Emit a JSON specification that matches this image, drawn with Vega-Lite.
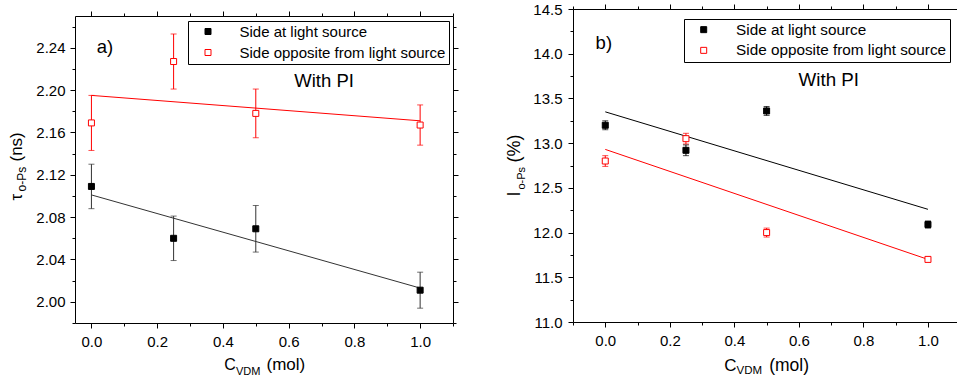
{
  "$schema": "https://vega.github.io/schema/vega-lite/v6.json",
  "background": "white",
  "padding": {"left": 7, "top": 2, "right": 0, "bottom": 0},
  "spacing": 46,
  "datasets": {
    "tauPts": [
      {"c": 0, "v": 2.109, "e": 0.021, "s": "Side at light source"},
      {"c": 0.25, "v": 2.060, "e": 0.021, "s": "Side at light source"},
      {"c": 0.5, "v": 2.069, "e": 0.022, "s": "Side at light source"},
      {"c": 1, "v": 2.011, "e": 0.017, "s": "Side at light source"},
      {"c": 0, "v": 2.169, "e": 0.026, "s": "Side opposite from light source"},
      {"c": 0.25, "v": 2.227, "e": 0.026, "s": "Side opposite from light source"},
      {"c": 0.5, "v": 2.178, "e": 0.023, "s": "Side opposite from light source"},
      {"c": 1, "v": 2.167, "e": 0.019, "s": "Side opposite from light source"}
    ],
    "tauFit": [
      {"c": 0, "v": 2.101, "s": "Side at light source"},
      {"c": 1, "v": 2.013, "s": "Side at light source"},
      {"c": 0, "v": 2.195, "s": "Side opposite from light source"},
      {"c": 1, "v": 2.171, "s": "Side opposite from light source"}
    ],
    "intPts": [
      {"c": 0, "v": 13.20, "e": 0.05, "s": "Side at light source"},
      {"c": 0.25, "v": 12.92, "e": 0.06, "s": "Side at light source"},
      {"c": 0.5, "v": 13.36, "e": 0.05, "s": "Side at light source"},
      {"c": 1, "v": 12.09, "e": 0.04, "s": "Side at light source"},
      {"c": 0, "v": 12.80, "e": 0.06, "s": "Side opposite from light source"},
      {"c": 0.25, "v": 13.05, "e": 0.06, "s": "Side opposite from light source"},
      {"c": 0.5, "v": 12.00, "e": 0.05, "s": "Side opposite from light source"},
      {"c": 1, "v": 11.70, "e": 0.02, "s": "Side opposite from light source"}
    ],
    "intFit": [
      {"c": 0, "v": 13.35, "s": "Side at light source"},
      {"c": 1, "v": 12.26, "s": "Side at light source"},
      {"c": 0, "v": 12.93, "s": "Side opposite from light source"},
      {"c": 1, "v": 11.70, "s": "Side opposite from light source"}
    ]
  },
  "hconcat": [
    {
      "spacing": 0,
      "resolve": {"scale": {"color": "independent", "stroke": "independent", "fill": "independent"}, "legend": {"color": "independent", "stroke": "independent", "fill": "independent"}},
      "vconcat": [
        {
          "width": 378,
          "height": 1,
          "data": {"values": []},
          "mark": {"type": "point"}
        },
        {
          "width": 378,
          "height": 307,
          "layer": [
            {
              "data": {"name": "tauPts"},
              "mark": {"type": "errorbar", "ticks": true, "size": 6, "thickness": 1},
              "encoding": {
                "x": {"field": "c", "type": "quantitative", "scale": {"domain": [-0.05, 1.1], "nice": false, "zero": false},
                  "axis": {"orient": "top", "values": [0, 0.2, 0.4, 0.6, 0.8, 1.0], "labels": false, "domain": true, "tickSize": 5, "title": null}},
                "y": {"field": "v", "type": "quantitative", "scale": {"domain": [1.98, 2.27], "nice": false, "zero": false},
                  "axis": {"orient": "right", "values": [2.00, 2.04, 2.08, 2.12, 2.16, 2.20, 2.24], "labels": false, "domain": true, "tickSize": 5, "title": null}},
                "yError": {"field": "e"},
                "color": {"field": "s", "type": "nominal", "scale": {"range": ["#333333", "#ff0000"]}, "legend": null}
              }
            },
            {
              "data": {"name": "tauFit"},
              "mark": {"type": "line", "strokeWidth": 1},
              "encoding": {
                "x": {"field": "c", "type": "quantitative", "scale": {"domain": [-0.05, 1.1], "nice": false, "zero": false},
                  "axis": {"orient": "bottom", "values": [0.1, 0.3, 0.5, 0.7, 0.9, 1.1], "labels": false, "domain": false, "tickSize": 3,
                    "title": "VDM", "titleX": 160.5, "titleY": 51.5, "titleAngle": 0, "titleAlign": "left", "titleBaseline": "alphabetic", "titleFontSize": 11}},
                "y": {"field": "v", "type": "quantitative", "scale": {"domain": [1.98, 2.27], "nice": false, "zero": false},
                  "axis": {"orient": "left", "values": [1.98, 2.02, 2.06, 2.10, 2.14, 2.18, 2.22, 2.26], "labels": false, "domain": false, "tickSize": 3,
                    "title": "o-Ps", "titleX": -50, "titleY": 175, "titleAngle": 270, "titleAlign": "left", "titleBaseline": "alphabetic", "titleFontSize": 12}},
                "color": {"field": "s", "type": "nominal", "scale": {"range": ["#333333", "#ff0000"]}, "legend": null}
              }
            },
            {
              "data": {"name": "tauPts"},
              "mark": {"type": "point", "shape": "square", "size": 36, "strokeWidth": 1, "opacity": 1, "filled": true},
              "encoding": {
                "x": {"field": "c", "type": "quantitative", "scale": {"domain": [-0.05, 1.1], "nice": false, "zero": false},
                  "axis": {"orient": "bottom", "values": [0, 0.2, 0.4, 0.6, 0.8, 1.0], "format": ".1f", "domain": true, "tickSize": 5, "labelPadding": 6, "labelOverlap": false, "labelFlush": false,
                    "title": "C", "titleX": 148.7, "titleY": 46, "titleAngle": 0, "titleAlign": "left", "titleBaseline": "alphabetic", "titleFontSize": 16}},
                "y": {"field": "v", "type": "quantitative", "scale": {"domain": [1.98, 2.27], "nice": false, "zero": false},
                  "axis": {"orient": "left", "values": [2.00, 2.04, 2.08, 2.12, 2.16, 2.20, 2.24], "format": ".2f", "domain": true, "tickSize": 5, "labelPadding": 5, "labelOverlap": false,
                    "title": "τ", "titleX": -53.5, "titleY": 184, "titleAngle": 270, "titleAlign": "left", "titleBaseline": "alphabetic", "titleFontSize": 17}},
                "stroke": {"field": "s", "type": "nominal", "scale": {"domain": ["Side at light source", "Side opposite from light source"], "range": ["#000000", "#ff0000"]},
                  "legend": {"title": null, "orient": "none", "legendX": 113, "legendY": 5, "strokeColor": "black", "fillColor": "white", "padding": 3, "symbolOffset": 9.5, "labelOffset": 24, "rowPadding": 5, "labelFontSize": 15, "labelLimit": 400, "symbolSize": 36, "symbolType": "square", "symbolStrokeWidth": 1}},
                "fill": {"field": "s", "type": "nominal", "scale": {"domain": ["Side at light source", "Side opposite from light source"], "range": ["#000000", "#ffffff"]},
                  "legend": {"title": null, "orient": "none", "legendX": 113, "legendY": 5, "strokeColor": "black", "fillColor": "white", "padding": 3, "symbolOffset": 9.5, "labelOffset": 24, "rowPadding": 5, "labelFontSize": 15, "labelLimit": 400, "symbolSize": 36, "symbolType": "square", "symbolStrokeWidth": 1}}
              }
            },
            {
              "data": {"values": [{"c": 0.016, "v": 2.2348, "t": "a)"}]},
              "mark": {"type": "text", "align": "left", "baseline": "alphabetic", "fontSize": 18.5, "color": "black"},
              "encoding": {
                "x": {"field": "c", "type": "quantitative", "scale": {"domain": [-0.05, 1.1], "nice": false, "zero": false},
                  "axis": {"orient": "top", "values": [0.1, 0.3, 0.5, 0.7, 0.9, 1.1], "labels": false, "domain": false, "tickSize": 3, "title": null}},
                "y": {"field": "v", "type": "quantitative", "scale": {"domain": [1.98, 2.27], "nice": false, "zero": false},
                  "axis": {"orient": "right", "values": [1.98, 2.02, 2.06, 2.10, 2.14, 2.18, 2.22, 2.26], "labels": false, "domain": false, "tickSize": 3, "title": null}},
                "text": {"field": "t"}
              }
            },
            {
              "data": {"values": [{"c": 0.617, "v": 2.2026, "t": "With PI"}]},
              "mark": {"type": "text", "align": "left", "baseline": "alphabetic", "fontSize": 18.5, "color": "black"},
              "encoding": {
                "x": {"field": "c", "type": "quantitative", "scale": {"domain": [-0.05, 1.1], "nice": false, "zero": false},
                  "axis": {"orient": "bottom", "ticks": false, "labels": false, "domain": false,
                    "title": "(mol)", "titleX": 191, "titleY": 46, "titleAngle": 0, "titleAlign": "left", "titleBaseline": "alphabetic", "titleFontSize": 17}},
                "y": {"field": "v", "type": "quantitative", "scale": {"domain": [1.98, 2.27], "nice": false, "zero": false},
                  "axis": {"orient": "left", "ticks": false, "labels": false, "domain": false,
                    "title": "(ns)", "titleX": -53.5, "titleY": 145, "titleAngle": 270, "titleAlign": "left", "titleBaseline": "alphabetic", "titleFontSize": 17}},
                "text": {"field": "t"}
              }
            }
          ],
          "resolve": {"axis": {"x": "independent", "y": "independent"}}
        }
      ]
    },
    {
      "width": 384,
      "height": 313,
      "layer": [
        {
          "data": {"name": "intPts"},
          "mark": {"type": "errorbar", "ticks": true, "size": 6, "thickness": 1},
          "encoding": {
            "x": {"field": "c", "type": "quantitative", "scale": {"domain": [-0.1, 1.09], "nice": false, "zero": false},
              "axis": {"orient": "top", "values": [0, 0.2, 0.4, 0.6, 0.8, 1.0], "labels": false, "domain": true, "tickSize": 5, "title": null}},
            "y": {"field": "v", "type": "quantitative", "scale": {"domain": [11, 14.5], "nice": false, "zero": false}, "axis": null},
            "yError": {"field": "e"},
            "color": {"field": "s", "type": "nominal", "scale": {"range": ["#000000", "#ff0000"]}, "legend": null}
          }
        },
        {
          "data": {"name": "intFit"},
          "mark": {"type": "line", "strokeWidth": 1},
          "encoding": {
            "x": {"field": "c", "type": "quantitative", "scale": {"domain": [-0.1, 1.09], "nice": false, "zero": false},
              "axis": {"orient": "bottom", "values": [-0.1, 0.1, 0.3, 0.5, 0.7, 0.9], "labels": false, "domain": false, "tickSize": 3,
                "title": "VDM", "titleX": 163, "titleY": 51.5, "titleAngle": 0, "titleAlign": "left", "titleBaseline": "alphabetic", "titleFontSize": 11.5}},
            "y": {"field": "v", "type": "quantitative", "scale": {"domain": [11, 14.5], "nice": false, "zero": false},
              "axis": {"orient": "left", "values": [11.25, 11.75, 12.25, 12.75, 13.25, 13.75, 14.25], "labels": false, "domain": false, "tickSize": 3,
                "title": "o-Ps", "titleX": -49, "titleY": 180, "titleAngle": 270, "titleAlign": "left", "titleBaseline": "alphabetic", "titleFontSize": 11}},
            "color": {"field": "s", "type": "nominal", "scale": {"range": ["#000000", "#ff0000"]}, "legend": null}
          }
        },
        {
          "data": {"name": "intPts"},
          "mark": {"type": "point", "shape": "square", "size": 36, "strokeWidth": 1, "opacity": 1, "filled": true},
          "encoding": {
            "x": {"field": "c", "type": "quantitative", "scale": {"domain": [-0.1, 1.09], "nice": false, "zero": false},
              "axis": {"orient": "bottom", "values": [0, 0.2, 0.4, 0.6, 0.8, 1.0], "format": ".1f", "domain": true, "tickSize": 5, "labelPadding": 6, "labelOverlap": false, "labelFlush": false,
                "title": "C", "titleX": 150.7, "titleY": 48, "titleAngle": 0, "titleAlign": "left", "titleBaseline": "alphabetic", "titleFontSize": 17}},
            "y": {"field": "v", "type": "quantitative", "scale": {"domain": [11, 14.5], "nice": false, "zero": false},
              "axis": {"orient": "left", "values": [11, 11.5, 12, 12.5, 13, 13.5, 14, 14.5], "format": ".1f", "domain": true, "tickSize": 5, "labelPadding": 6, "labelOverlap": false, "labelFlush": false,
                "title": "I", "titleX": -54, "titleY": 187, "titleAngle": 270, "titleAlign": "left", "titleBaseline": "alphabetic", "titleFontSize": 18}},
            "stroke": {"field": "s", "type": "nominal", "scale": {"domain": ["Side at light source", "Side opposite from light source"], "range": ["#000000", "#ff0000"]},
              "legend": {"title": null, "orient": "none", "legendX": 111, "legendY": 10, "strokeColor": "black", "fillColor": "white", "padding": 3, "symbolOffset": 9.05, "labelOffset": 24.7, "rowPadding": 4.7, "labelFontSize": 15.3, "labelLimit": 400, "symbolSize": 36, "symbolType": "square", "symbolStrokeWidth": 1}},
            "fill": {"field": "s", "type": "nominal", "scale": {"domain": ["Side at light source", "Side opposite from light source"], "range": ["#000000", "#ffffff"]},
              "legend": {"title": null, "orient": "none", "legendX": 111, "legendY": 10, "strokeColor": "black", "fillColor": "white", "padding": 3, "symbolOffset": 9.05, "labelOffset": 24.7, "rowPadding": 4.7, "labelFontSize": 15.3, "labelLimit": 400, "symbolSize": 36, "symbolType": "square", "symbolStrokeWidth": 1}}
          }
        },
        {
          "data": {"values": [{"c": -0.03, "v": 14.053, "t": "b)"}]},
          "mark": {"type": "text", "align": "left", "baseline": "alphabetic", "fontSize": 18.5, "color": "black"},
          "encoding": {
            "x": {"field": "c", "type": "quantitative", "scale": {"domain": [-0.1, 1.09], "nice": false, "zero": false},
              "axis": {"orient": "top", "values": [-0.1, 0.1, 0.3, 0.5, 0.7, 0.9], "labels": false, "domain": false, "tickSize": 3, "title": null}},
            "y": {"field": "v", "type": "quantitative", "scale": {"domain": [11, 14.5], "nice": false, "zero": false}, "axis": null},
            "text": {"field": "t"}
          }
        },
        {
          "data": {"values": [{"c": 0.599, "v": 13.636, "t": "With PI"}]},
          "mark": {"type": "text", "align": "left", "baseline": "alphabetic", "fontSize": 18.8, "color": "black"},
          "encoding": {
            "x": {"field": "c", "type": "quantitative", "scale": {"domain": [-0.1, 1.09], "nice": false, "zero": false},
              "axis": {"orient": "bottom", "ticks": false, "labels": false, "domain": false,
                "title": "(mol)", "titleX": 195.7, "titleY": 48, "titleAngle": 0, "titleAlign": "left", "titleBaseline": "alphabetic", "titleFontSize": 17.5}},
            "y": {"field": "v", "type": "quantitative", "scale": {"domain": [11, 14.5], "nice": false, "zero": false},
              "axis": {"orient": "left", "ticks": false, "labels": false, "domain": false,
                "title": "(%)", "titleX": -54, "titleY": 153, "titleAngle": 270, "titleAlign": "left", "titleBaseline": "alphabetic", "titleFontSize": 18}},
            "text": {"field": "t"}
          }
        }
      ],
      "resolve": {"axis": {"x": "independent", "y": "independent"}}
    }
  ],
  "resolve": {"scale": {"color": "independent", "stroke": "independent", "fill": "independent"}, "legend": {"color": "independent", "stroke": "independent", "fill": "independent"}},
  "config": {
    "view": {"stroke": null},
    "font": "Liberation Sans",
    "axis": {"grid": false, "domainColor": "black", "tickColor": "black", "labelColor": "black", "titleColor": "black", "labelFont": "Liberation Sans", "titleFont": "Liberation Sans", "labelFontSize": 15, "titleFontWeight": "normal", "domainWidth": 1, "tickWidth": 1},
    "legend": {"labelFont": "Liberation Sans", "labelColor": "black"},
    "text": {"font": "Liberation Sans"}
  }
}
